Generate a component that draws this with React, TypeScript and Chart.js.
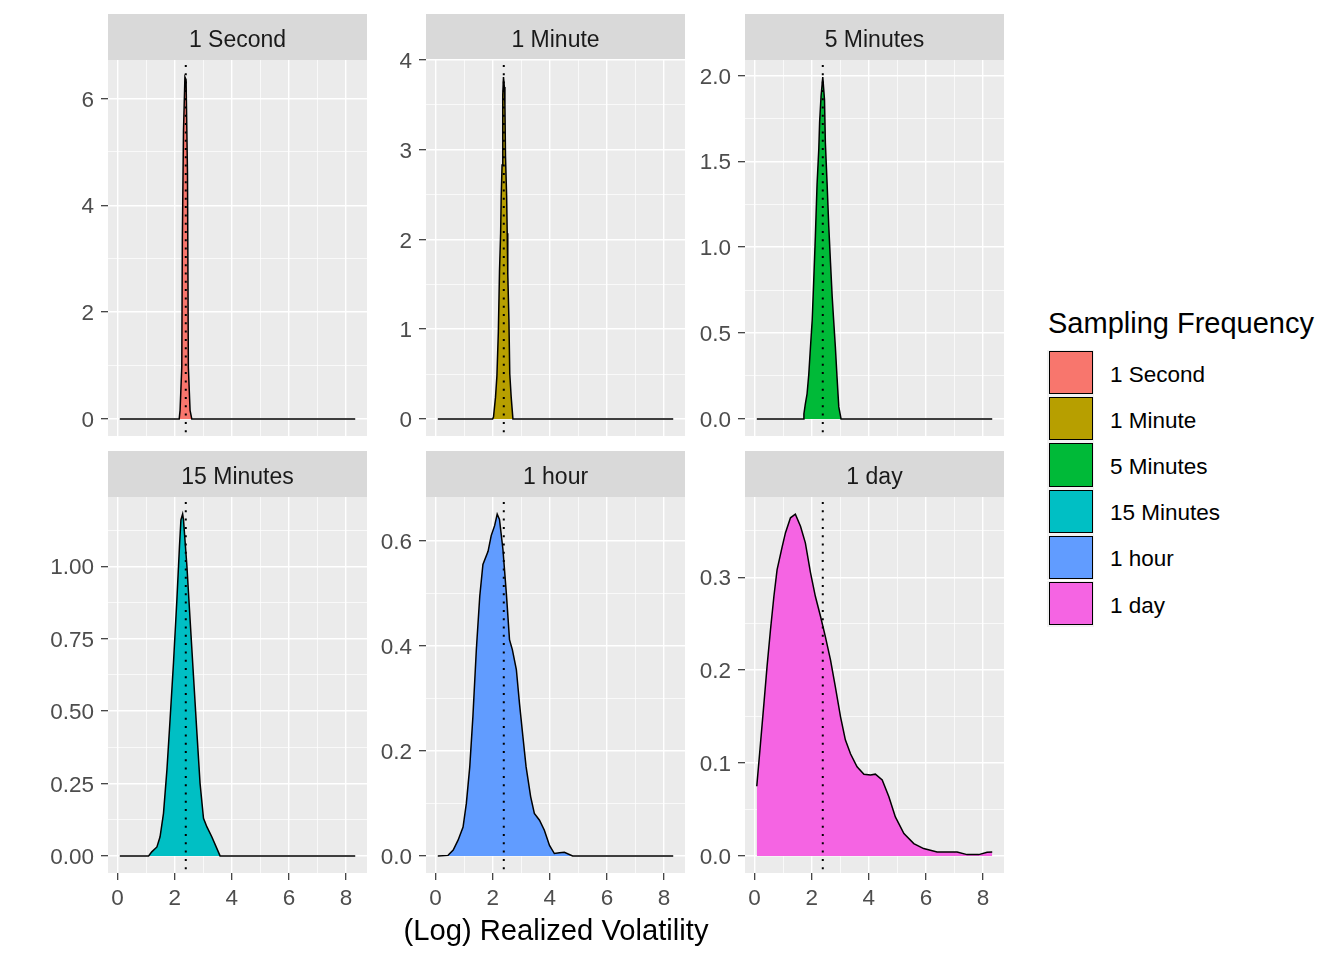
import { useEffect, useRef } from 'react';
import Chart from 'chart.js/auto';

const FONT = '"Liberation Sans", Arial, Helvetica, sans-serif';

// facets in plot order, ggplot's default hue palette
const panelTitles = ['1 Second', '1 Minute', '5 Minutes', '15 Minutes', '1 hour', '1 day'];
const fillColors = ['#F8766D', '#B79F00', '#00BA38', '#00BFC4', '#619CFF', '#F564E3'];

// density estimates: [log realized volatility, density]
const density1Second = [
  [0.08, 0], [2.16, 0], [2.19, 0.16], [2.25, 0.97], [2.27, 3.35], [2.31, 5.39], [2.36, 6.4],
  [2.4, 6.35], [2.45, 4.6], [2.48, 0.97], [2.54, 0.16], [2.6, 0], [8.32, 0],
];
const density1Minute = [
  [0.08, 0], [2.0, 0], [2.03, 0.02], [2.1, 0.24], [2.15, 0.48], [2.2, 0.97], [2.24, 1.64],
  [2.28, 2.07], [2.3, 2.48], [2.33, 2.83], [2.35, 3.3], [2.36, 3.62], [2.38, 3.81], [2.41, 3.7],
  [2.43, 3.49], [2.45, 2.93], [2.49, 2.48], [2.51, 2.07], [2.53, 1.62], [2.57, 1.1], [2.6, 0.5],
  [2.65, 0.24], [2.71, 0], [8.32, 0],
];
const density5Minutes = [
  [0.08, 0], [1.7, 0], [1.73, 0.03], [1.78, 0.088], [1.84, 0.146], [1.9, 0.26], [1.96, 0.42],
  [2.02, 0.576], [2.07, 0.79], [2.13, 1.06], [2.19, 1.366], [2.25, 1.57], [2.28, 1.73],
  [2.33, 1.88], [2.39, 1.99], [2.45, 1.86], [2.48, 1.61], [2.54, 1.375], [2.6, 1.12],
  [2.66, 0.91], [2.72, 0.71], [2.77, 0.576], [2.83, 0.42], [2.89, 0.24], [2.95, 0.07],
  [3.03, 0], [8.32, 0],
];
const density15Minutes = [
  [0.08, 0], [1.09, 0], [1.2, 0.014], [1.38, 0.031], [1.49, 0.066], [1.61, 0.147], [1.73, 0.297],
  [1.84, 0.47], [1.96, 0.667], [2.08, 0.887], [2.17, 1.07], [2.22, 1.16], [2.25, 1.17],
  [2.28, 1.18], [2.31, 1.16], [2.43, 1.0], [2.54, 0.817], [2.66, 0.62], [2.78, 0.424],
  [2.89, 0.25], [3.01, 0.13], [3.13, 0.1], [3.3, 0.066], [3.48, 0.025], [3.59, 0], [8.32, 0],
];
const density1Hour = [
  [0.08, 0], [0.44, 0.001], [0.62, 0.011], [0.79, 0.03], [0.965, 0.055], [1.08, 0.1], [1.2, 0.17],
  [1.31, 0.266], [1.43, 0.393], [1.55, 0.495], [1.66, 0.555], [1.84, 0.58], [1.95, 0.61],
  [2.07, 0.629], [2.16, 0.651], [2.24, 0.641], [2.36, 0.584], [2.48, 0.5], [2.59, 0.412],
  [2.69, 0.393], [2.83, 0.355], [2.94, 0.29], [3.06, 0.227], [3.17, 0.17], [3.33, 0.113],
  [3.46, 0.081], [3.64, 0.068], [3.81, 0.049], [3.99, 0.02], [4.16, 0.0045], [4.34, 0.006],
  [4.51, 0.007], [4.8, 0], [8.32, 0],
];
const density1Day = [
  [0.08, 0.075], [0.21, 0.121], [0.33, 0.164], [0.44, 0.204], [0.56, 0.2435], [0.68, 0.2795],
  [0.79, 0.308], [0.97, 0.333], [1.085, 0.348], [1.26, 0.364], [1.43, 0.368], [1.61, 0.355],
  [1.78, 0.337], [1.96, 0.305], [2.13, 0.2795], [2.31, 0.258], [2.48, 0.236], [2.66, 0.211],
  [2.83, 0.182], [3.01, 0.15], [3.18, 0.125], [3.36, 0.11], [3.59, 0.096], [3.83, 0.088],
  [4.06, 0.087], [4.23, 0.088], [4.47, 0.0817], [4.7, 0.064], [4.93, 0.042], [5.23, 0.024],
  [5.575, 0.0133], [5.92, 0.0079], [6.39, 0.0043], [7.09, 0.0043], [7.44, 0.0014],
  [7.85, 0.0014], [8.14, 0.004], [8.32, 0.0043],
];
const densities = [density1Second, density1Minute, density5Minutes, density15Minutes, density1Hour, density1Day];

// tick labels
const xTickLabels = ['0', '2', '4', '6', '8'];
const yTickLabels = [
  ['0', '2', '4', '6'],
  ['0', '1', '2', '3', '4'],
  ['0.0', '0.5', '1.0', '1.5', '2.0'],
  ['0.00', '0.25', '0.50', '0.75', '1.00'],
  ['0.0', '0.2', '0.4', '0.6'],
  ['0.0', '0.1', '0.2', '0.3'],
];

// dotted reference line (mean)
const meanLogRV = 2.39;

const PANEL_W = 259;
const PANEL_H = 376;
const STRIP_H = 46;
const Y_AXIS_W = 100;
const X_AXIS_H = 46;
const X_SPACER_H = 24; // top row: room for the y labels' overhang, nothing drawn
const colLefts = [108, 426, 745];
const rowTops = [14, 451];

Chart.defaults.font.family = FONT;

// majors plus the ggplot-style minor lines half way between them
function gridValues(majors: number[], lo: number, hi: number) {
  const step = majors[1] - majors[0];
  const out: number[] = [];
  for (let k = -2; k <= majors.length * 2 + 2; k++) {
    const v = +(majors[0] + (k * step) / 2).toFixed(6);
    if (v >= lo && v <= hi) out.push(v);
  }
  return out;
}

function axisOptions(majors: number[], labels: string[], lo: number, hi: number, horizontal: boolean, show: boolean, size: number) {
  const values = gridValues(majors, lo, hi);
  const majorIndex = (v: number) => majors.findIndex((m) => Math.abs(m - v) < 1e-6);
  return {
    type: 'linear' as const,
    min: lo,
    max: hi,
    afterBuildTicks: (axis: any) => {
      axis.ticks = values.map((v) => ({ value: v }));
    },
    afterFit: (axis: any) => {
      if (horizontal) axis.height = size;
      else axis.width = size;
    },
    border: { display: false },
    grid: {
      color: '#FFFFFF',
      lineWidth: (c: any) => (c.tick && majorIndex(c.tick.value) >= 0 ? 1.4 : 0.7),
      drawTicks: show,
      tickLength: 7,
      tickWidth: 1.2,
      tickColor: (c: any) => (c.tick && majorIndex(c.tick.value) >= 0 ? '#333333' : 'rgba(0,0,0,0)'),
    },
    ticks: {
      display: show,
      autoSkip: false,
      maxRotation: 0,
      padding: horizontal ? 5 : 7,
      labelOffset: horizontal ? 0 : 2,
      color: '#4D4D4D',
      font: { size: 22.5 },
      callback: (value: any) => {
        const i = majorIndex(Number(value));
        return i >= 0 ? labels[i] : '';
      },
    },
  };
}

const allX = densities.flat().map((p) => p[0]);
const xLo = Math.min(...allX);
const xHi = Math.max(...allX);
const xPad = (xHi - xLo) * 0.05;

function Panel({ index, showX }: { index: number; showX: boolean }) {
  const canvasRef = useRef<HTMLCanvasElement | null>(null);
  const chartRef = useRef<Chart | null>(null);
  const xAxisH = showX ? X_AXIS_H : X_SPACER_H;
  const width = Y_AXIS_W + PANEL_W;
  const height = STRIP_H + PANEL_H + xAxisH;
  const left = colLefts[index % 3] - Y_AXIS_W;
  const top = rowTops[Math.floor(index / 3)];

  useEffect(() => {
    if (chartRef.current) chartRef.current.destroy();
    if (!canvasRef.current) return;
    const pts = densities[index];
    const peak = Math.max(...pts.map((p) => p[1]));
    const yMajors = yTickLabels[index].map(Number);
    const xMajors = xTickLabels.map(Number);
    const title = panelTitles[index];

    const facetPlugin = {
      id: 'facet',
      beforeDraw(chart: any) {
        const { ctx, chartArea: a } = chart;
        ctx.save();
        ctx.fillStyle = '#EBEBEB';
        ctx.fillRect(a.left, a.top, a.right - a.left, a.bottom - a.top);
        ctx.fillStyle = '#D9D9D9';
        ctx.fillRect(a.left, 0, a.right - a.left, a.top);
        ctx.fillStyle = '#1A1A1A';
        ctx.font = `23px ${FONT}`;
        ctx.textAlign = 'center';
        ctx.textBaseline = 'middle';
        ctx.fillText(title, (a.left + a.right) / 2, a.top / 2 + 3.5);
        ctx.restore();
      },
      afterDatasetsDraw(chart: any) {
        const { ctx, chartArea: a } = chart;
        const x = chart.scales.x.getPixelForValue(meanLogRV);
        ctx.save();
        ctx.strokeStyle = '#000000';
        ctx.lineWidth = 2;
        ctx.setLineDash([2, 6.3]);
        ctx.beginPath();
        ctx.moveTo(x, a.top + 5);
        ctx.lineTo(x, a.bottom);
        ctx.stroke();
        ctx.restore();
      },
    };

    chartRef.current = new Chart(canvasRef.current, {
      type: 'line',
      data: {
        datasets: [
          {
            label: title,
            data: pts.map(([x, y]) => ({ x, y })),
            borderColor: '#000000',
            borderWidth: 1.5,
            backgroundColor: fillColors[index],
            fill: 'origin',
            pointRadius: 0,
            tension: 0,
          },
        ],
      },
      options: {
        animation: false,
        responsive: false,
        events: [],
        layout: { padding: { top: STRIP_H, left: 0, right: 0, bottom: 0 } },
        plugins: { legend: { display: false }, tooltip: { enabled: false } },
        scales: {
          x: axisOptions(xMajors, xTickLabels, xLo - xPad, xHi + xPad, true, showX, xAxisH),
          y: axisOptions(yMajors, yTickLabels[index], -0.05 * peak, 1.05 * peak, false, true, Y_AXIS_W),
        },
      },
      plugins: [facetPlugin],
    });
    return () => {
      if (chartRef.current) {
        chartRef.current.destroy();
        chartRef.current = null;
      }
    };
  }, [index, showX]);

  return (
    <canvas
      ref={canvasRef}
      width={width}
      height={height}
      style={{ position: 'absolute', left, top, width, height }}
    />
  );
}

export default function App() {
  return (
    <div
      style={{
        position: 'absolute',
        left: 0,
        top: 0,
        width: 1344,
        height: 960,
        background: '#FFFFFF',
        overflow: 'hidden',
        fontFamily: FONT,
      }}
    >
      {panelTitles.map((t, i) => (
        <Panel key={t} index={i} showX={i >= 3} />
      ))}
      <div
        style={{
          position: 'absolute',
          left: 108,
          width: 896,
          top: 916,
          textAlign: 'center',
          fontSize: 29.2,
          lineHeight: 1,
          color: '#000000',
          whiteSpace: 'nowrap',
        }}
      >
        (Log) Realized Volatility
      </div>
      <div
        style={{
          position: 'absolute',
          left: 1048,
          top: 309,
          fontSize: 29,
          lineHeight: 1,
          color: '#000000',
          whiteSpace: 'nowrap',
        }}
      >
        Sampling Frequency
      </div>
      {panelTitles.map((t, i) => (
        <div key={t}>
          <div
            style={{
              position: 'absolute',
              left: 1047,
              top: 349.5 + i * 46.2,
              width: 47,
              height: 46.2,
              background: '#F2F2F2',
            }}
          >
            <div
              style={{
                position: 'absolute',
                left: 2,
                top: 1.5,
                width: 43.5,
                height: 43.2,
                boxSizing: 'border-box',
                border: '1.4px solid #000000',
                background: fillColors[i],
              }}
            />
          </div>
          <div
            style={{
              position: 'absolute',
              left: 1110,
              top: 351.5 + i * 46.2,
              height: 46.2,
              display: 'flex',
              alignItems: 'center',
              fontSize: 22.5,
              color: '#000000',
              whiteSpace: 'nowrap',
            }}
          >
            {t}
          </div>
        </div>
      ))}
    </div>
  );
}
